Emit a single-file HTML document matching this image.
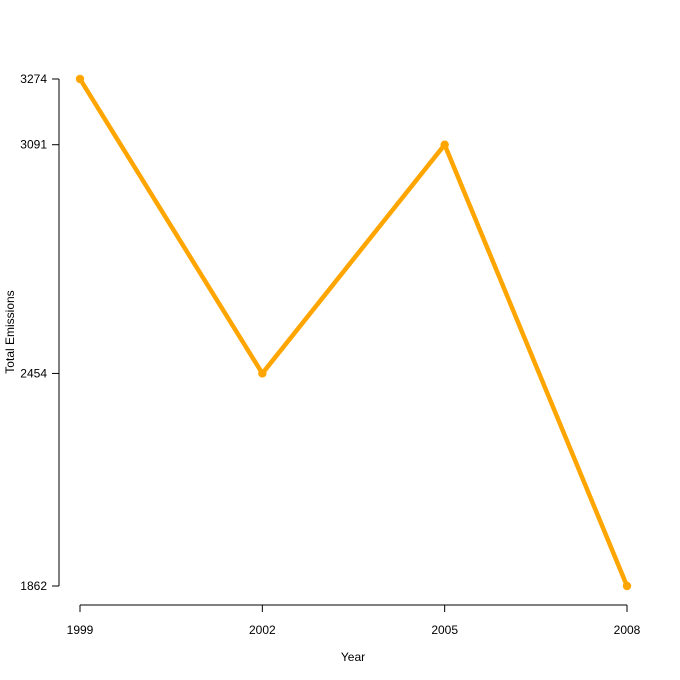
<!DOCTYPE html>
<html><head><meta charset="utf-8"><style>
body{margin:0;background:#fff}
svg{display:block;font-family:"Liberation Sans",Arial,sans-serif;font-size:12px}
</style></head><body>
<svg id="chart" width="680" height="680" viewBox="0 0 680 680">
<rect width="680" height="680" fill="#fff"/>
<g id="axes"></g>
<g id="marks"></g>
<text x="353" y="661" text-anchor="middle">Year</text>
<text transform="translate(14,332) rotate(-90)" text-anchor="middle">Total Emissions</text>
</svg>
<script>
const years = [1999, 2002, 2005, 2008];
const emissions = [3274, 2454, 3091, 1862];
const yTicks = [1862, 2454, 3091, 3274];
const NS = "http://www.w3.org/2000/svg";
function xs(v){ return 80 + (v - 1999) / 9 * (627 - 80); }
function ys(v){ return 586 - (v - 1862) / (3274 - 1862) * (586 - 79); }
function mk(tag, attrs, parent, text){
  const e = document.createElementNS(NS, tag);
  for (const k in attrs) e.setAttribute(k, attrs[k]);
  if (text !== undefined) e.textContent = text;
  parent.appendChild(e); return e;
}
const axes = document.getElementById('axes');
const marks = document.getElementById('marks');
let a = mk('line', {x1:59, x2:59, y1:ys(Math.min(...yTicks)), y2:ys(Math.max(...yTicks)), stroke:'#000'}, axes);


yTicks.forEach(t => {
  const l = mk('line', {x1:52, x2:59, y1:ys(t), y2:ys(t), stroke:'#000'}, axes);
  
  
  const tx = mk('text', {x:47, y:ys(t)+4, 'text-anchor':'end'}, axes, String(t));
  
  
});
a = mk('line', {x1:xs(years[0]), x2:xs(years[years.length-1]), y1:605, y2:605, stroke:'#000'}, axes);


years.forEach(t => {
  const l = mk('line', {x1:xs(t), x2:xs(t), y1:605, y2:612, stroke:'#000'}, axes);
  
  
  const tx = mk('text', {x:xs(t), y:634, 'text-anchor':'middle'}, axes, String(t));
  
  
});
const pts = years.map((y,i) => xs(y) + ',' + ys(emissions[i])).join(' ');
const pl = mk('polyline', {points:pts, fill:'none', stroke:'#FFA500', 'stroke-width':4.5, 'stroke-linejoin':'round'}, marks);


years.forEach((y,i) => {
  const c = mk('circle', {cx:xs(y), cy:ys(emissions[i]), r:4.2, fill:'#FFA500'}, marks);
  
  
});
</script>
</body></html>
